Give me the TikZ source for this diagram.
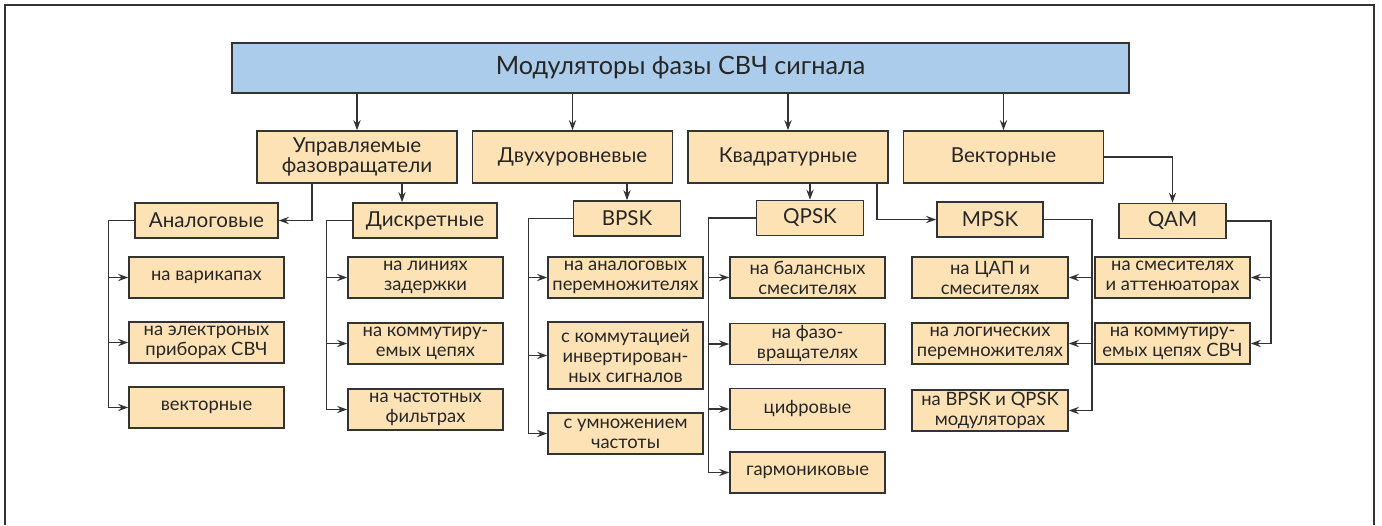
\documentclass[tikz,border=0pt]{standalone}
\usepackage{fontspec}
\setmainfont{Lato}
\usetikzlibrary{arrows.meta}
\definecolor{boxfill}{HTML}{FDE2B6}
\definecolor{topfill}{HTML}{ABCDEB}
\definecolor{linegray}{HTML}{333333}
\tikzset{
	blk/.style={draw=linegray, line width=0.8pt, fill=boxfill, align=center, inner sep=0pt,
		font=\fontsize{10.3}{10.2}\selectfont, text=black!85},
	sub/.style={blk, font=\fontsize{9.2}{10}\selectfont},
	sz/.style 2 args={minimum width=#1*0.5pt, minimum height=#2*0.5pt},
	arr/.style={-{Stealth[length=5pt,width=3.6pt]}, line width=0.7pt, draw=linegray},
	frm/.style={line width=0.8pt, draw=black!80}
}
\begin{document}
\begin{tikzpicture}[x=0.5pt,y=-0.5pt]
		\useasboundingbox (0,0) rectangle (1382,525);
		\draw[frm] (5,525) -- (5,5) -- (1374,5) -- (1374,525);
		
		\node[blk, sz={897}{50}, fill=topfill, font=\fontsize{12.6}{15}\selectfont] (top) at (680.5,68) {Модуляторы фазы СВЧ сигнала};
		
		\node[blk, sz={200}{52}] (upr) at (357,157) {Управляемые\\фазовращатели};
		\node[blk, sz={200}{52}] (dvu) at (572.5,157) {Двухуровневые};
		\node[blk, sz={200}{52}] (kva) at (788,157) {Квадратурные};
		\node[blk, sz={200}{52}] (vek) at (1003.5,157) {Векторные};
		\foreach \nm in {upr,dvu,kva,vek}
			\draw[arr] (top.south -| \nm.north) -- (\nm.north);
		
		\node[blk, sz={143}{35}] (ana) at (206.5,220.5) {Аналоговые};
		\node[blk, sz={144}{35}] (dis) at (425,220.5) {Дискретные};
		\node[blk, sz={107}{35}] (bpsk) at (627,218.5) {BPSK};
		\node[blk, sz={107}{35}] (qpsk) at (810,218) {QPSK};
		\node[blk, sz={106}{35}] (mpsk) at (990,219.5) {MPSK};
		\node[blk, sz={107}{35}] (qam) at (1172.5,221) {QAM};
		
		\draw[arr] ([xshift=-22.5pt]upr.south) |- (ana);
		\draw[arr] ([xshift=22.5pt]upr.south) -- ([xshift=22.5pt]upr.south |- dis.north);
		\draw[arr] (bpsk.north |- dvu.south) -- (bpsk.north);
		\draw[arr] (qpsk.north |- kva.south) -- (qpsk.north);
		\draw[arr] ([xshift=44.5pt]kva.south) |- (mpsk);
		\draw[arr] (vek.east) -| (qam);
		
		% analog and discrete
		\foreach \nm/\yy/\txt in {ana1/277.5/на варикапах, ana2/342.5/{на электроных\\приборах СВЧ}, ana3/407.5/векторные}
			\node[sub, sz={155}{41}] (\nm) at (206.5,\yy) {\txt};
		\foreach \nm/\yy/\txt in {dis1/277.5/{на линиях\\задержки}, dis2/343.5/{на коммутиру-\\емых цепях}, dis3/409.5/{на частотных\\фильтрах}}
			\node[sub, sz={155}{41}] (\nm) at (425.5,\yy) {\txt};
		\foreach \nm in {ana1,ana2,ana3}
			\draw[arr] (ana.west) -- ++(-13pt,0) |- (\nm);
		\foreach \nm in {dis1,dis2,dis3}
			\draw[arr] (dis.west) -- ++(-13pt,0) |- (\nm);
		
		% BPSK
		\node[sub, sz={155}{41}] (bpsk1) at (625.5,277.5) {на аналоговых\\перемножителях};
		\node[sub, sz={155}{67}] (bpsk2) at (625.5,355.5) {с коммутацией\\инвертирован-\\ных сигналов};
		\node[sub, sz={155}{41}] (bpsk3) at (625.5,433.5) {с умножением\\частоты};
		\foreach \nm in {bpsk1,bpsk2,bpsk3}
			\draw[arr] (bpsk.west) -- ++(-22pt,0) |- (\nm);
		
		% QPSK
		\foreach \nm/\yy/\txt in {qpsk1/277.5/{на балансных\\смесителях}, qpsk2/344/{на фазо-\\вращателях}, qpsk3/409/цифровые, qpsk4/472.5/гармониковые}
			\node[sub, sz={155}{41}] (\nm) at (807.5,\yy) {\txt};
		\foreach \nm in {qpsk1,qpsk2,qpsk3,qpsk4}
			\draw[arr] (qpsk.west) -- ++(-23.5pt,0) |- (\nm);
		
		% MPSK and QAM
		\foreach \nm/\yy/\txt in {mpsk1/277.5/{на ЦАП и\\смесителях}, mpsk2/343.5/{на логических\\перемножителях}, mpsk3/410.5/{на BPSK и QPSK\\модуляторах}}
			\node[sub, sz={156}{41}] (\nm) at (990,\yy) {\txt};
		\foreach \nm in {mpsk1,mpsk2,mpsk3}
			\draw[arr] (mpsk.east) -- ++(24pt,0) |- (\nm);
		\foreach \nm/\yy/\txt in {qam1/277.5/{на смесителях\\и аттенюаторах}, qam2/343.5/{на коммутиру-\\емых цепях СВЧ}}
			\node[sub, sz={155}{41}] (\nm) at (1172.5,\yy) {\txt};
		\foreach \nm in {qam1,qam2}
			\draw[arr] (qam.east) -- ++(22pt,0) |- (\nm);
	\end{tikzpicture}
\end{document}
